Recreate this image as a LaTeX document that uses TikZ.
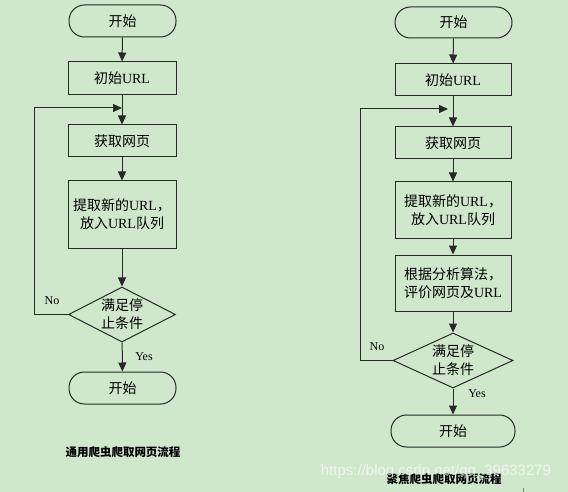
\documentclass[tikz,border=0pt]{standalone}
\usepackage{fontspec}
\setmainfont{Liberation Serif}
\newfontfamily\cjk{Noto Sans CJK SC}
\newfontfamily\wmfont{Liberation Sans}
\usetikzlibrary{arrows.meta,shapes.geometric}
\definecolor{bg}{RGB}{207,232,204}
\definecolor{ln}{RGB}{40,40,40}
\newcommand{\zh}[1]{{\cjk #1}}
\begin{document}
\begin{tikzpicture}[x=1pt,y=-1pt,
  every node/.style={text=black},
  txt/.style={font=\fontsize{14}{18}\selectfont},
  proc/.style={txt,draw=ln,line width=1pt,rectangle,inner sep=0pt,align=center},
  term/.style={txt,draw=ln,line width=1pt,rectangle,rounded corners=15.5pt,inner sep=0pt,align=center},
  dec/.style={txt,draw=ln,line width=1pt,diamond,aspect=1.95,inner sep=0pt,align=center},
  arr/.style={draw=ln,line width=1pt,-{Triangle[length=9pt,width=8pt]}},
  lbl/.style={font=\fontsize{12}{14}\selectfont,inner sep=0pt},
  captxt/.style={font=\fontsize{11.5}{14}\selectfont\cjk\bfseries,inner sep=0pt}]
\fill[bg] (0,0) rectangle (568,492);
\useasboundingbox (0,0) rectangle (568,492);
% left chart
\node[term,minimum width=107pt,minimum height=32pt] (s1) at (122.5,21) {\zh{开始}};
\node[proc,minimum width=108pt,minimum height=33pt] (i1) at (122,78.5) {\zh{初始}URL};
\node[proc,minimum width=108pt,minimum height=32pt] (g1) at (122,141) {\zh{获取网页}};
\node[proc,minimum width=108pt,minimum height=67pt] (t1) at (122,214.5) {\zh{提取新的}URL\zh{，}\\\zh{放入}URL\zh{队列}};
\node[dec,minimum width=107pt,minimum height=55pt] (d1) at (122,314.5) {\zh{满足停}\\\zh{止条件}};
\node[term,minimum width=107pt,minimum height=32pt] (e1) at (122.5,388) {\zh{开始}};
\coordinate (l1) at (34,108);
\coordinate (j1) at (122,108);
\draw[arr] (s1) -- (i1);
\draw[arr] (i1) -- (g1);
\draw[arr] (g1) -- (t1);
\draw[arr] (t1) -- (d1);
\draw[arr] (d1) -- (e1);
\draw[arr] (d1.west) -| (l1) -- (j1);
\node[lbl] (no1) at (52,301) {No};
\node[lbl] (yes1) at (144,357) {Yes};
\node[captxt] (c1) at (123,452) {通用爬虫爬取网页流程};
% right chart
\node[term,minimum width=117pt,minimum height=31pt] (s2) at (453.5,22.5) {\zh{开始}};
\node[proc,minimum width=116pt,minimum height=32pt] (i2) at (453,80) {\zh{初始}URL};
\node[proc,minimum width=116pt,minimum height=32pt] (g2) at (453,143) {\zh{获取网页}};
\node[proc,minimum width=116pt,minimum height=56pt] (t2) at (453,210) {\zh{提取新的}URL\zh{，}\\\zh{放入}URL\zh{队列}};
\node[proc,minimum width=116pt,minimum height=56pt] (r2) at (453,283) {\zh{根据分析算法，}\\\zh{评价网页及}URL};
\node[dec,minimum width=120pt,minimum height=55pt] (d2) at (453,360.5) {\zh{满足停}\\\zh{止条件}};
\node[term,minimum width=124pt,minimum height=32pt] (e2) at (453,431) {\zh{开始}};
\coordinate (l2) at (360,109);
\coordinate (j2) at (448,109);
\draw[arr] (s2) -- (i2);
\draw[arr] (i2) -- (g2);
\draw[arr] (g2) -- (t2);
\draw[arr] (t2) -- (r2);
\draw[arr] (r2) -- (d2);
\draw[arr] (d2) -- (e2);
\draw[arr] (d2.west) -| (l2) -- (j2);
\node[lbl] (no2) at (377,347) {No};
\node[lbl] (yes2) at (477,394) {Yes};
\node[captxt] (c2) at (444,479) {聚焦爬虫爬取网页流程};
\node[font=\fontsize{15}{17}\wmfont,text=white,text opacity=0.65,inner sep=0pt] (wm) at (436,472) {https://blog.csdn.net/qq\_39633279};
\coordinate (k1) at (523,488);
\coordinate (k2) at (523,492);
\draw[gray,line width=0.6pt] (k1) -- (k2);
\end{tikzpicture}
\end{document}
